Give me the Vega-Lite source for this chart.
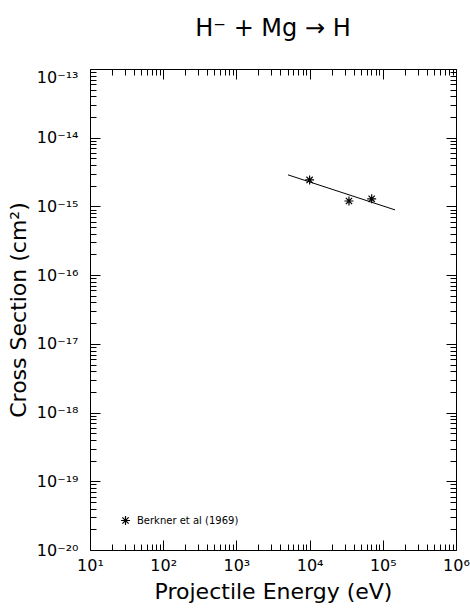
{
  "$schema": "https://vega.github.io/schema/vega-lite/v6.json",
  "width": 366,
  "height": 481,
  "autosize": {"type": "none"},
  "padding": {"left": 90, "top": 69, "right": 14, "bottom": 60},
  "background": "white",
  "title": {"text": "H⁻  +  Mg  →  H", "fontSize": 24, "font": "DejaVu Sans", "fontWeight": "normal", "color": "black", "offset": 28, "anchor": "middle"},
  "config": {"view": {"stroke": "black", "strokeWidth": 1}, "font": "DejaVu Sans"},
  "datasets": {
    "meas": [
      {"energy": 10000, "cs": 2.43e-15, "source": "Berkner et al (1969)"},
      {"energy": 34500, "cs": 1.2e-15, "source": "Berkner et al (1969)"},
      {"energy": 70500, "cs": 1.29e-15, "source": "Berkner et al (1969)"}
    ],
    "fit": [
      {"energy": 5070, "cs": 2.88e-15},
      {"energy": 147000, "cs": 8.9e-16}
    ]
  },
  "layer": [
    {
      "data": {"name": "meas"},
      "mark": {"type": "point", "filled": false, "strokeWidth": 1.2, "color": "black", "size": 81, "opacity": 1},
      "encoding": {
        "x": {
          "field": "energy", "type": "quantitative",
          "scale": {"type": "log", "domain": [10, 1000000], "nice": false},
          "axis": {
            "orient": "bottom",
            "values": [10,20,30,40,50,60,70,80,90,100,200,300,400,500,600,700,800,900,1000,2000,3000,4000,5000,6000,7000,8000,9000,10000,20000,30000,40000,50000,60000,70000,80000,90000,100000,200000,300000,400000,500000,600000,700000,800000,900000,1000000],
            "domain": false, "grid": false, "ticks": true,
            "tickColor": "black", "tickWidth": 1,
            "tickSize": {"condition": {"test": "abs(log(datum.value)/LN10 - round(log(datum.value)/LN10)) < 0.001", "value": -10}, "value": -6},
            "labelExpr": "abs(log(datum.value)/LN10 - round(log(datum.value)/LN10)) < 0.001 ? '10' + ['⁰','¹','²','³','⁴','⁵','⁶'][round(log(datum.value)/LN10)] : ''",
            "labelFontSize": 16, "labelColor": "black", "labelPadding": 17, "labelOverlap": false, "labelFlush": false, "labelBound": false,
            "title": "Projectile Energy (eV)", "titleFontSize": 22, "titleFontWeight": "normal", "titleColor": "black", "titlePadding": 4
          }
        },
        "y": {
          "field": "cs", "type": "quantitative",
          "scale": {"type": "log", "domain": [1e-20, 1e-13], "nice": false},
          "axis": {
            "orient": "left",
            "values": [1e-20,2e-20,3e-20,4e-20,5e-20,6e-20,7e-20,8e-20,9e-20,1e-19,2e-19,3e-19,4e-19,5e-19,6e-19,7e-19,8e-19,9e-19,1e-18,2e-18,3e-18,4e-18,5e-18,6e-18,7e-18,8e-18,9e-18,1e-17,2e-17,3e-17,4e-17,5e-17,6e-17,7e-17,8e-17,9e-17,1e-16,2e-16,3e-16,4e-16,5e-16,6e-16,7e-16,8e-16,9e-16,1e-15,2e-15,3e-15,4e-15,5e-15,6e-15,7e-15,8e-15,9e-15,1e-14,2e-14,3e-14,4e-14,5e-14,6e-14,7e-14,8e-14,9e-14,1e-13],
            "domain": false, "grid": false, "ticks": true,
            "tickColor": "black", "tickWidth": 1,
            "tickSize": {"condition": {"test": "abs(log(datum.value)/LN10 - round(log(datum.value)/LN10)) < 0.001", "value": -10}, "value": -6},
            "labelExpr": "abs(log(datum.value)/LN10 - round(log(datum.value)/LN10)) < 0.001 ? '10⁻' + ['¹³','¹⁴','¹⁵','¹⁶','¹⁷','¹⁸','¹⁹','²⁰'][-round(log(datum.value)/LN10) - 13] : ''",
            "labelBaseline": {"condition": {"test": "datum.value > 5e-14", "value": "top"}, "value": "middle"},
            "labelFontSize": 16, "labelColor": "black", "labelPadding": 22, "labelOverlap": false, "labelFlush": false, "labelBound": false,
            "title": "Cross Section (cm²)", "titleFontSize": 22, "titleFontWeight": "normal", "titleColor": "black", "titlePadding": 6
          }
        },
        "shape": {
          "field": "source", "type": "nominal",
          "scale": {"range": ["M0,-1V1M-1,0H1M-0.7,-0.7L0.7,0.7M-0.7,0.7L0.7,-0.7"]},
          "legend": {
            "title": null, "orient": "none", "legendX": 30, "legendY": 446, "padding": 0,
            "labelFontSize": 10, "labelColor": "black", "symbolSize": 81, "symbolStrokeColor": "black", "symbolStrokeWidth": 1.2, "symbolFillColor": "transparent", "labelOffset": 6
          }
        }
      }
    },
    {
      "data": {"name": "fit"},
      "mark": {"type": "line", "color": "black", "strokeWidth": 1},
      "encoding": {
        "x": {
          "field": "energy", "type": "quantitative",
          "scale": {"type": "log", "domain": [10, 1000000], "nice": false},
          "axis": {
            "orient": "top",
            "values": [10,20,30,40,50,60,70,80,90,100,200,300,400,500,600,700,800,900,1000,2000,3000,4000,5000,6000,7000,8000,9000,10000,20000,30000,40000,50000,60000,70000,80000,90000,100000,200000,300000,400000,500000,600000,700000,800000,900000,1000000],
            "domain": false, "grid": false, "labels": false, "title": null,
            "tickColor": "black", "tickWidth": 1,
            "tickSize": {"condition": {"test": "abs(log(datum.value)/LN10 - round(log(datum.value)/LN10)) < 0.001", "value": -10}, "value": -6}
          }
        },
        "y": {
          "field": "cs", "type": "quantitative",
          "scale": {"type": "log", "domain": [1e-20, 1e-13], "nice": false},
          "axis": {
            "orient": "right",
            "values": [1e-20,2e-20,3e-20,4e-20,5e-20,6e-20,7e-20,8e-20,9e-20,1e-19,2e-19,3e-19,4e-19,5e-19,6e-19,7e-19,8e-19,9e-19,1e-18,2e-18,3e-18,4e-18,5e-18,6e-18,7e-18,8e-18,9e-18,1e-17,2e-17,3e-17,4e-17,5e-17,6e-17,7e-17,8e-17,9e-17,1e-16,2e-16,3e-16,4e-16,5e-16,6e-16,7e-16,8e-16,9e-16,1e-15,2e-15,3e-15,4e-15,5e-15,6e-15,7e-15,8e-15,9e-15,1e-14,2e-14,3e-14,4e-14,5e-14,6e-14,7e-14,8e-14,9e-14,1e-13],
            "domain": false, "grid": false, "labels": false, "title": null,
            "tickColor": "black", "tickWidth": 1,
            "tickSize": {"condition": {"test": "abs(log(datum.value)/LN10 - round(log(datum.value)/LN10)) < 0.001", "value": -10}, "value": -6}
          }
        }
      }
    }
  ],
  "resolve": {"axis": {"x": "independent", "y": "independent"}}
}
